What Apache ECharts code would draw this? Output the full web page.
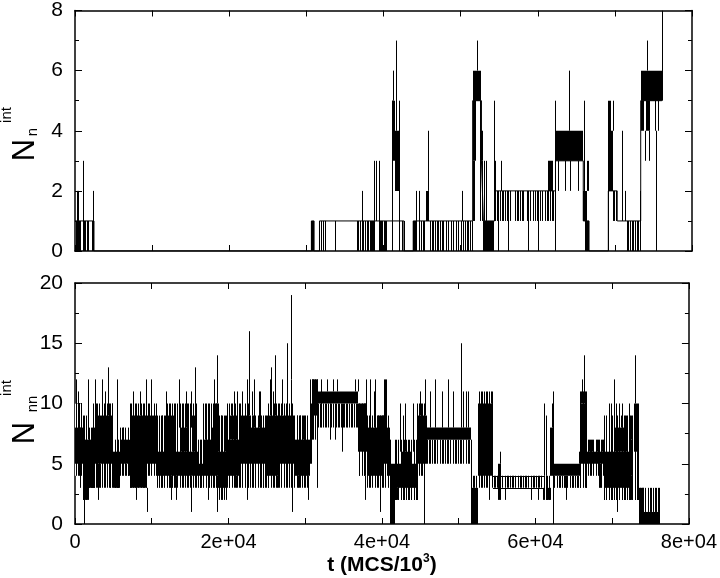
<!DOCTYPE html>
<html><head><meta charset="utf-8">
<script src="https://cdn.jsdelivr.net/npm/echarts@6/dist/echarts.min.js"></script>
<style>html,body{margin:0;padding:0;background:#fff}#c{width:720px;height:578px}</style>
</head><body><div id="c"></div>
<script>
// ---------- DATA (t in MCS/10^3, values = counts) ----------
const xTickValues = [0, 20000, 40000, 60000, 80000];

// upper panel: N_n^int
const topLevel = [[0,1],[2460,0],[30650,1],[31000,0],[31700,1],[42650,0],[43850,1],[51560,5],[52700,3],[52950,1],[54400,2],[62300,3],[65900,1],[66650,0],[69150,2],[70300,1],[73350,5],[76100,5]];
const topBlocks = [
[560,650,0,1],[2150,2460,0,1],
[30650,31000,0,1],[38250,38900,0,1],[40200,40500,0,1],
[41070,41550,3,5],[41550,42100,2,4],
[43850,44300,0,1],[45500,45850,1,2],
[51560,52650,5,6],[51650,52000,3,5],[52700,52950,3,4],[52950,54330,0,1],
[61350,62000,2,3],[62350,65900,3,4],[65900,66400,1,2],
[69150,69450,2,5],[69450,69800,2,4],
[73450,76050,5,6],[73450,73800,4,5],[74000,74550,4,5]
];
const topSpikes = [
[150,0,1],[300,0,2],[450,0,2],[700,0,1],[1000,0,3],[1150,0,1],[1350,0,1],[1500,0,1],[1700,0,1],[2300,1,2],
[31680,0,1],[31850,0,1],[32110,0,1],[32410,0,1],[33710,0,1],[36520,0,1],[36740,0,1],[36950,0,1],[37210,0,2],[37380,0,1],[37600,0,1],[37810,0,1],[38030,0,1],[38800,1,3],[39000,1,3],[39460,0,3],[39550,0,1],[39700,0,1],[39850,0,1],[40000,0,1],
[41070,1,5],[41190,5,6],[41620,4,7],[41100,0,3],[41950,0,5],[42350,0,1],[42650,0,1],
[44200,1,2],[44650,0,2],[45730,2,4],[44820,0,1],[45080,0,1],[45250,0,1],[46030,0,1],[46250,0,1],[46460,0,1],[46680,0,1],[46900,0,1],[47110,0,1],[47330,0,1],[47540,0,1],[47760,0,1],[48060,0,1],[48410,0,1],[48710,0,1],[49050,0,1],[49360,0,1],[49700,0,1],[50010,0,1],[50220,1,2],[50350,0,1],[50570,0,1],[50790,0,1],[51000,0,1],[51220,0,1],[51450,0,1],
[51560,1,3],[51750,1,3],[52160,6,7],[52510,1,5],[52800,1,3],[53030,1,3],[53290,1,3],[54330,1,5],
[54460,1,3],[54670,1,2],[54890,0,2],[55110,1,2],[55240,2,3],[55320,1,2],[55540,1,2],[55750,1,2],[55970,1,2],[56100,0,2],[56400,1,2],[57050,1,2],[57270,1,2],[57480,1,2],[57700,1,2],[57910,1,2],[58130,1,2],[58560,1,2],[58780,0,2],[59000,1,2],[59430,1,2],[59640,1,2],[59860,1,2],[60080,0,2],[60290,1,2],[60510,1,2],[60940,1,2],[61160,1,2],[61370,1,2],[61590,1,2],[61800,1,2],[62020,1,2],
[62240,0,5],[62670,2,3],[63530,2,3],[64050,4,6],[64180,2,3],[65170,2,3],[65950,1,5],[66100,0,1],[66250,0,1],[66400,0,1],[66550,0,1],[66350,2,3],[66550,2,3],
[69150,0,2],[69750,4,5],[69800,1,2],[69950,1,2],[70100,1,2],[70880,1,4],[71310,1,2],[71530,0,1],[71750,0,1],[71960,0,1],[72180,0,1],[72400,0,1],[72620,0,1],[72830,0,1],[73050,0,1],[73250,0,2],
[73900,3,4],[74430,3,4],[74120,6,7],[75200,4,5],[75630,4,5],[75330,0,4],[76150,5,8]
];

// lower panel: N_nn^int
const bottomCore = [
[0,1100,5,8],[1100,1770,2,7],[1770,2640,3,7],[2640,5010,5,9],[5010,5880,3,6],[5880,6960,5,7],[6960,7180,4,7],[7180,9340,3,9],[9340,10630,5,9],[10630,11710,4,6],[11710,13010,4,9],[13010,16040,4,6],[13870,14900,6,8],[15200,15820,6,9],[16040,16680,4,5],[16680,17760,4,7],[17760,18630,4,8],[18200,18750,6,10],[18630,19840,3,6],
[19840,21570,4,7],[20200,21100,7,9],[21570,22860,5,9],[22860,25020,5,8],[25020,26750,4,9],[26750,28480,5,9],[28100,28300,9,12],[28480,30640,4,7],[30640,30900,5,10],[30900,31720,9,12],[31720,36910,10,11],[36910,37990,6,10],[37990,40320,4,8],[39540,40320,5,9],[40320,40710,5,12],[40710,41060,4,8],[41060,41710,0,5],
[41710,44730,3,5],[42570,43870,4,6],[44730,45810,5,9],[45810,51560,7,8],[51560,52510,0,3],[52510,54460,4,10],
[55110,55540,2,5],[61380,62020,2,3],[61940,62450,4,8],[62450,65910,4,5],[65830,66780,5,10],[66780,69020,5,6],[68290,68720,3,5],[69020,72180,3,6],[70230,71530,6,8],[72180,72610,4,7],[72830,73480,6,10],[73480,76070,0,1],[73480,74120,0,3]
];
const bottomFringe = [
[0,1100,4,10],[1100,1770,2,9],[1770,2640,3,8],[2640,5010,3,10],[5010,5880,3,7],[5880,7180,4,8],[7180,9340,3,10],[9340,10630,4,10],[10630,11710,3,9],[11710,13010,3,10],[13010,16040,3,10],[16040,16680,3,7],[16680,17760,3,10],[17760,18630,3,10],[18630,19840,2,9],
[19840,21570,3,10],[21570,22860,3,10],[22860,25020,3,9],[25020,26750,3,10],[26750,28480,3,10],[28480,30640,3,9],[30640,31720,7,12],[31720,36910,8,10],[36910,37990,4,10],[37990,40580,3,9],[40710,41060,3,9],[41710,44730,2,7],[44730,45810,4,10],[45810,51560,5,7],[51560,52510,3,4],[52510,54460,3,11],[54460,61160,3,4],[61160,62020,2,4],[62450,65910,3,4],[65830,66780,3,11],[66780,69020,4,7],[68940,73480,2,9],[73480,76070,1,3]
];
const bottomFlats = [[54460,61160,3],[54460,61160,4]];
const bottomSpikes = [
[130,8,12],[350,8,11],[700,3,8],[1120,0,5],[1690,7,12],[2300,3,10],[2550,7,12],[3000,2,5],[3300,3,5],[3500,9,12],[3850,9,11],[4280,9,13],[4500,3,5],[4800,9,10],[5530,6,12],[6300,7,8],[6600,4,5],[7600,9,11],[8000,2,3],[8470,9,11],[9210,9,12],[9340,1,3],[9900,9,12],[11000,6,8],[11400,6,9],[11800,6,11],[12450,2,4],[13200,2,4],[13530,8,12],[14500,8,11],[15080,8,11],[15170,1,4],[15690,9,13],[16300,3,4],[16900,7,10],[17330,2,4],[18110,8,12],[18450,10,14],[18550,1,4],[19000,6,9],[19500,6,9],
[20060,3,4],[20270,9,10],[20700,9,11],[20920,3,4],[21140,9,11],[21800,9,11],[22400,9,12],[22430,2,5],[22650,9,16],[23100,9,11],[23300,8,12],[23500,3,5],[24030,8,11],[24160,8,11],[24500,3,5],[25200,3,4],[25460,9,12],[25590,9,13],[25800,9,11],[26110,9,14],[26300,3,4],[27000,9,12],[27620,9,15],[28180,12,19],[28270,1,5],[28900,7,9],[29100,3,4],[29300,7,9],[29700,7,9],[30400,2,4],[31500,3,9],
[32000,8,12],[32800,11,12],[33200,7,10],[33670,11,12],[34100,11,12],[33900,7,10],[34750,6,10],[35400,8,10],[36480,11,12],[36910,11,12],[37000,4,6],[37700,4,6],[37770,2,4],[37910,8,12],[38470,8,12],[39120,8,12],[39000,8,11],[39720,1,4],[41060,2,7],
[42000,2,3],[42360,6,10],[42790,6,9],[43010,6,10],[43500,2,3],[44080,6,10],[44510,6,10],[44950,9,11],[45470,0,5],[45600,9,12],
[46250,8,11],[46900,8,12],[47760,8,11],[48620,8,12],[49270,8,11],[50270,8,15],[50570,8,11],[51000,8,11],[51220,8,11],[51560,0,7],
[53900,2,5],[54240,10,11],[55320,5,6],[56000,2,3],[59430,2,3],[60290,2,3],[60940,2,3],[61160,4,10],[61380,4,9],[62100,8,10],[62240,0,11],[63930,2,4],[65700,5,6],[65910,10,11],[66130,10,12],[66340,10,14],[66560,3,5],[66990,6,7],[67430,6,7],[68070,6,7],[68720,6,7],[69150,2,3],[69590,6,10],[69810,6,10],[70230,8,12],[70450,8,10],[70660,1,3],[70880,8,10],[71100,8,9],[71310,8,10],[71750,6,9],[72180,7,10],[72400,2,4],[72400,7,9],[72910,10,14],[76070,0,3]
];

// ---------- RENDERING ----------
const FONT = '"Liberation Sans", Arial, sans-serif';
const hatch = document.createElement('canvas');
hatch.width = 13; hatch.height = 4;
(function(){ const g = hatch.getContext('2d'); g.fillStyle = '#fff'; g.fillRect(0,0,13,4); g.fillStyle = '#000'; [0,1,3,5,6,8,11].forEach(function(x){ g.fillRect(x,0,1,4); }); })();

function rectItem(fill){
  return function(params, api){
    const p0 = api.coord([api.value(0), api.value(3)]);
    const p1 = api.coord([api.value(1), api.value(2)]);
    return {type:'rect', shape:{x:Math.round(p0[0]), y:p0[1], width:Math.max(1, Math.round(p1[0]) - Math.round(p0[0])), height:p1[1]-p0[1]}, style:{fill: fill}};
  };
}
function spikeItem(params, api){
  const a = api.coord([api.value(0), api.value(1)]);
  const b = api.coord([api.value(0), api.value(2)]);
  const x = Math.round(a[0]) + 0.5;
  return {type:'line', shape:{x1:x, y1:a[1], x2:x, y2:b[1]}, style:{stroke:'#000', lineWidth:1}};
}
function flatItem(params, api){
  const a = api.coord([api.value(0), api.value(2)]);
  const b = api.coord([api.value(1), api.value(2)]);
  const y = Math.round(a[1]) + 0.5;
  return {type:'line', shape:{x1:a[0], y1:y, x2:b[0], y2:y}, style:{stroke:'#000', lineWidth:1}};
}

function xAxis(grid, pos, labels){
  return {gridIndex:grid, type:'value', position:pos, min:0, max:80000, interval:20000,
    axisLine:{show:true, onZero:false, lineStyle:{color:'#000', width:1.5}},
    axisTick:{show:true, inside:true, length:6, lineStyle:{color:'#000', width:1}},
    minorTick:{show:true, splitNumber:2, length:6, lineStyle:{color:'#000', width:1}},
    splitLine:{show:false}, minorSplitLine:{show:false},
    axisLabel:{show:labels, margin:8, color:'#000', fontSize:20, fontFamily:FONT,
      formatter:function(v){ return v === 0 ? '0' : (v/10000) + 'e+04'; }}
  };
}
function yAxis(grid, pos, max, interval, labels){
  return {gridIndex:grid, type:'value', position:pos, min:0, max:max, interval:interval,
    axisLine:{show:true, onZero:false, lineStyle:{color:'#000', width:1.5}},
    axisTick:{show:true, inside:true, length:7, lineStyle:{color:'#000', width:1}},
    minorTick:{show:true, splitNumber:2, length:4, lineStyle:{color:'#000', width:1}},
    splitLine:{show:false}, minorSplitLine:{show:false},
    axisLabel:{show:labels, margin:12, color:'#000', fontSize:21, fontFamily:FONT}
  };
}

const xBottom = xAxis(1, 'bottom', true);
xBottom.name = '{a|t (MCS/10}{s|3}{a|)}';
xBottom.nameLocation = 'middle';
xBottom.nameGap = 28;
xBottom.nameTextStyle = {rich:{
  a:{fontSize:21, fontWeight:'bold', fontFamily:FONT, color:'#000', lineHeight:24},
  s:{fontSize:12, fontWeight:'bold', fontFamily:FONT, color:'#000', verticalAlign:'top', lineHeight:24}
}};

function cseries(xi, yi, data, item, enc){
  return {type:'custom', xAxisIndex:xi, yAxisIndex:yi, data:data, renderItem:item, encode:enc, clip:true, silent:true, animation:false};
}

const option = {
  animation:false,
  backgroundColor:'#fff',
  grid:[
    {left:75, right:28, top:9, height:242},
    {left:75, right:28, top:283, height:241}
  ],
  xAxis:[ xAxis(0,'bottom',false), xAxis(0,'top',false), xBottom, xAxis(1,'top',false) ],
  yAxis:[ yAxis(0,'left',8,2,true), yAxis(0,'right',8,2,false), yAxis(1,'left',20,5,true), yAxis(1,'right',20,5,false) ],
  graphic:[
    {type:'text', x:25, y:150, rotation:Math.PI/2, style:{text:'N', font:'31px '+FONT, fill:'#000', align:'center', verticalAlign:'middle'}},
    {type:'text', x:33, y:132, rotation:Math.PI/2, style:{text:'n', font:'15px '+FONT, fill:'#000', align:'center', verticalAlign:'middle'}},
    {type:'text', x:7, y:115, rotation:Math.PI/2, style:{text:'int', font:'15px '+FONT, fill:'#000', align:'center', verticalAlign:'middle'}},
    {type:'text', x:25, y:433, rotation:Math.PI/2, style:{text:'N', font:'31px '+FONT, fill:'#000', align:'center', verticalAlign:'middle'}},
    {type:'text', x:33, y:404, rotation:Math.PI/2, style:{text:'nn', font:'15px '+FONT, fill:'#000', align:'center', verticalAlign:'middle'}},
    {type:'text', x:7, y:388, rotation:Math.PI/2, style:{text:'int', font:'15px '+FONT, fill:'#000', align:'center', verticalAlign:'middle'}}
  ],
  series:[
    {type:'line', xAxisIndex:0, yAxisIndex:0, data:topLevel, step:'end', symbol:'none', lineStyle:{color:'#000', width:1}, silent:true, animation:false},
    cseries(0, 0, topBlocks, rectItem('#000'), {x:[0,1], y:[2,3]}),
    cseries(0, 0, topSpikes, spikeItem, {x:0, y:[1,2]}),
    cseries(2, 2, bottomFringe, rectItem({image:hatch, repeat:'repeat'}), {x:[0,1], y:[2,3]}),
    cseries(2, 2, bottomCore, rectItem('#000'), {x:[0,1], y:[2,3]}),
    cseries(2, 2, bottomFlats, flatItem, {x:[0,1], y:2}),
    cseries(2, 2, bottomSpikes, spikeItem, {x:0, y:[1,2]})
  ]
};
echarts.init(document.getElementById('c'), null, {renderer:'canvas'}).setOption(option);
</script></body></html>
